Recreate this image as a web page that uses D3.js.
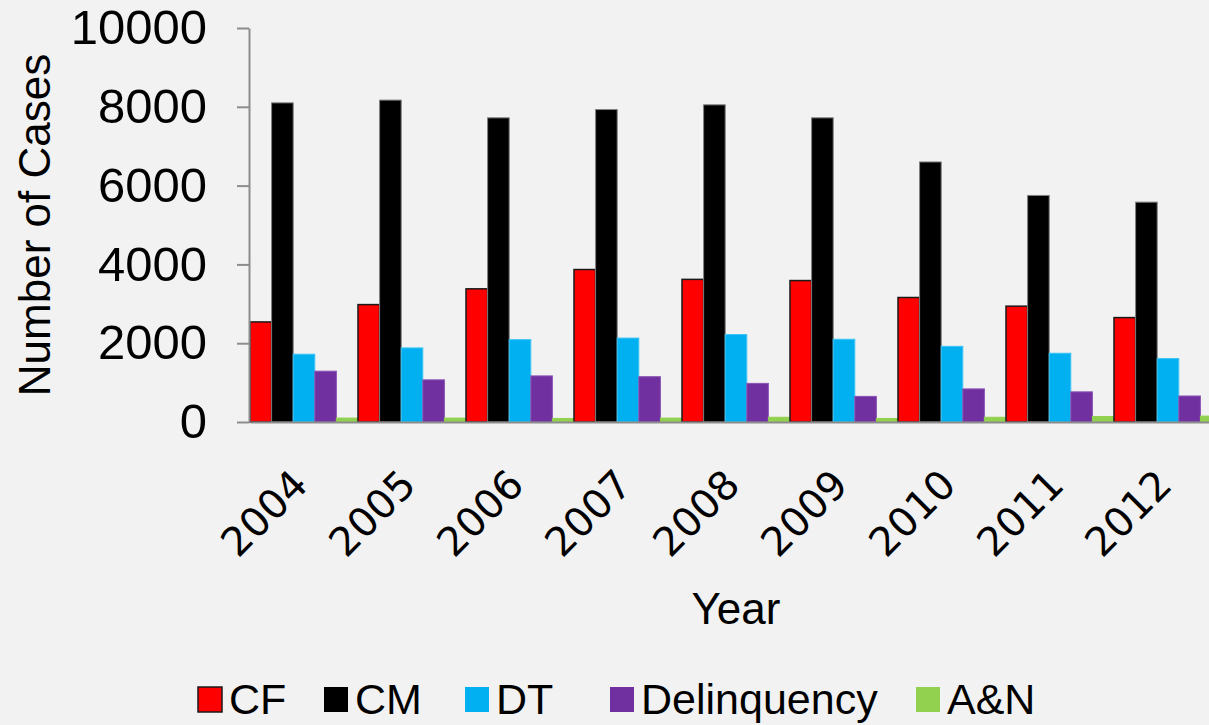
<!DOCTYPE html>
<html>
<head>
<meta charset="utf-8">
<script src="https://cdn.jsdelivr.net/npm/d3@7"></script>
<style>
    html, body { margin: 0; padding: 0; background: #f2f2f2; }
    svg { display: block; }
</style>
</head>
<body>
<div id="chart"></div>
<script>
// values
const years = ["2004", "2005", "2006", "2007", "2008", "2009", "2010", "2011", "2012"];
const seriesNames = ["CF", "CM", "DT", "Delinquency", "A&N"];
const cf = [2540, 2980, 3380, 3870, 3620, 3590, 3160, 2940, 2650];
const cm = [8100, 8170, 7720, 7930, 8050, 7720, 6600, 5750, 5580];
const dt = [1720, 1880, 2090, 2130, 2220, 2100, 1920, 1745, 1610];
const delinquency = [1290, 1070, 1170, 1150, 980, 650, 840, 765, 660];
const an = [100, 100, 90, 100, 120, 90, 120, 140, 150];
const yTicks = [0, 2000, 4000, 6000, 8000, 10000];

const seriesValues = [cf, cm, dt, delinquency, an];
const colors = ["#ff0000", "#000000", "#00b0f0", "#7030a0", "#92d050"];
const strokes = ["#1a1a1a", "#7f7f7f", "#3cc4f5", "#8a55b5", "#92d050"];

const width = 1209, height = 725;

// plot area (right side runs past the edge, as in the source)
const x = d3.scaleBand().domain(years).range([250, 1222]).padding(0);
const xInner = d3.scaleBand().domain(seriesNames).range([0, x.bandwidth()]).padding(0);
const y = d3.scaleLinear().domain([0, 10000]).range([422, 28]);

const svg = d3.select("#chart")
    .append("svg")
    .attr("width", width)
    .attr("height", height)
    .style("background", "#f2f2f2");

// bars
const groups = svg.append("g")
    .selectAll("g")
    .data(years)
    .join("g")
    .attr("transform", d => "translate(" + x(d) + ",0)");

groups.selectAll("rect")
    .data((yr, i) => seriesNames.map((s, j) => ({ s: s, j: j, v: seriesValues[j][i] })))
    .join("rect")
    .attr("x", d => xInner(d.s))
    .attr("width", xInner.bandwidth())
    .attr("y", d => y(d.v))
    .attr("height", d => y(0) - y(d.v))
    .attr("fill", d => colors[d.j])
    .attr("stroke", d => strokes[d.j])
    .attr("stroke-width", d => d.j === 0 ? 1.5 : 1);

// Y axis
const yAxis = svg.append("g")
    .attr("transform", "translate(249,0)")
    .call(d3.axisLeft(y).tickValues(yTicks).tickFormat(d3.format("d"))
        .tickSize(12).tickSizeOuter(0).tickPadding(30));
yAxis.select(".domain").attr("stroke", "#8c8c8c").attr("stroke-width", 2);
yAxis.selectAll(".tick line").attr("stroke", "#8c8c8c").attr("stroke-width", 2);
yAxis.selectAll(".tick text")
    .attr("fill", "#000")
    .style("font-family", "'Liberation Sans', Arial, sans-serif")
    .style("font-size", "49px");

// X axis
const xAxis = svg.append("g")
    .attr("transform", "translate(0,422)")
    .call(d3.axisBottom(x).tickSize(0).tickSizeOuter(0));
xAxis.select(".domain").attr("stroke", "#8c8c8c").attr("stroke-width", 2);
xAxis.selectAll(".tick text")
    .attr("x", 0)
    .attr("y", 0)
    .attr("dy", 0)
    .attr("transform", "translate(6,65) rotate(-45)")
    .attr("text-anchor", "end")
    .attr("fill", "#000")
    .style("font-family", "'DejaVu Sans', sans-serif")
    .style("font-size", "40px");

// axis titles
svg.append("text")
    .attr("transform", "translate(50,225) rotate(-90)")
    .attr("text-anchor", "middle")
    .style("font-family", "'Liberation Sans', Arial, sans-serif")
    .style("font-size", "44px")
    .text("Number of Cases");

svg.append("text")
    .attr("x", 736)
    .attr("y", 624)
    .attr("text-anchor", "middle")
    .style("font-family", "'Liberation Sans', Arial, sans-serif")
    .style("font-size", "44px")
    .text("Year");

// legend
const legendX = [198, 324, 465, 610, 916];
const legend = svg.append("g")
    .selectAll("g")
    .data(seriesNames)
    .join("g")
    .attr("transform", (d, i) => "translate(" + legendX[i] + ",687)");

legend.append("rect")
    .attr("width", 24)
    .attr("height", 25)
    .attr("fill", (d, i) => colors[i])
    .attr("stroke", (d, i) => i === 0 ? "#1a1a1a" : "none")
    .attr("stroke-width", 1.5);

legend.append("text")
    .attr("x", 31)
    .attr("y", 27)
    .style("font-family", "'Liberation Sans', Arial, sans-serif")
    .style("font-size", "43px")
    .text(d => d);
</script>
</body>
</html>
